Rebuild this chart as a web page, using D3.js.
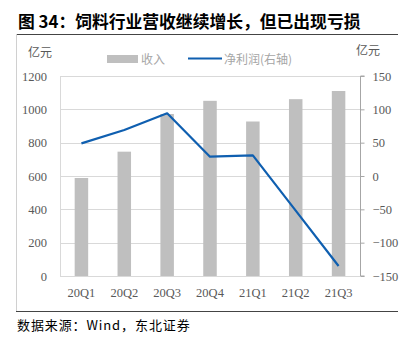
<!DOCTYPE html>
<html>
<head>
<meta charset="utf-8">
<script src="https://cdn.jsdelivr.net/npm/d3@7"></script>
<style>
  html, body { margin: 0; padding: 0; background: #fff; }
  svg { display: block; }
</style>
</head>
<body>
<svg id="chart" width="408" height="340"></svg>
<script>
// Quarterly data: revenue (left axis, 亿元) and net profit (right axis, 亿元)
const categories = ["20Q1", "20Q2", "20Q3", "20Q4", "21Q1", "21Q2", "21Q3"];
const revenue = [588, 746, 972, 1051, 927, 1061, 1110];
const netProfit = [49, 69, 94, 29, 31, -52, -135];
const leftTicks = [0, 200, 400, 600, 800, 1000, 1200];
const rightTicks = [-150, -100, -50, 0, 50, 100, 150];

const title = "图 34：饲料行业营收继续增长，但已出现亏损";
const source = "数据来源：Wind，东北证券";

const svg = d3.select("#chart");
const cjk = "'Noto Sans CJK SC', sans-serif";
const serif = "'Liberation Serif', 'Times New Roman', serif";
const labelColor = "#595959";
const gridColor = "#d9d9d9";

const m = { left: 60, right: 360, top: 76, bottom: 276 };

const x = d3.scaleBand().domain(categories).range([m.left, m.right]).paddingInner(0.685).paddingOuter(0.3425);
const yL = d3.scaleLinear().domain([0, 1200]).range([m.bottom, m.top]);
const yR = d3.scaleLinear().domain([-150, 150]).range([m.bottom, m.top]);

// Title and frame
svg.append("text").attr("x", 18).attr("y", 28)
  .attr("font-family", cjk).attr("font-weight", "bold").attr("font-size", 16.8)
  .attr("fill", "#000").text(title);
svg.append("line").attr("x1", 16).attr("x2", 398).attr("y1", 34.5).attr("y2", 34.5)
  .attr("stroke", "#444").attr("stroke-width", 1);
svg.append("line").attr("x1", 16.5).attr("x2", 16.5).attr("y1", 34).attr("y2", 311)
  .attr("stroke", "#d0d0d0").attr("stroke-width", 1);
svg.append("line").attr("x1", 16).attr("x2", 398).attr("y1", 311.5).attr("y2", 311.5)
  .attr("stroke", "#444").attr("stroke-width", 1);
svg.append("text").attr("x", 17).attr("y", 330)
  .attr("font-family", cjk).attr("font-size", 13).attr("letter-spacing", 0.9)
  .attr("fill", "#000").text(source);

// Unit labels
svg.append("text").attr("x", 28).attr("y", 57).attr("font-family", cjk).attr("font-size", 12)
  .attr("fill", labelColor).text("亿元");
svg.append("text").attr("x", 356).attr("y", 55).attr("font-family", cjk).attr("font-size", 12)
  .attr("fill", labelColor).text("亿元");

// Gridlines
svg.append("g").selectAll("line").data(leftTicks).join("line")
  .attr("x1", m.left).attr("x2", m.right)
  .attr("y1", d => Math.round(yL(d)) + 0.5).attr("y2", d => Math.round(yL(d)) + 0.5)
  .attr("stroke", gridColor).attr("stroke-width", 1);
svg.append("line").attr("x1", m.left + 0.5).attr("x2", m.left + 0.5)
  .attr("y1", m.top).attr("y2", m.bottom).attr("stroke", gridColor);

// Bars
svg.append("g").selectAll("rect").data(categories).join("rect")
  .attr("x", d => x(d)).attr("width", x.bandwidth())
  .attr("y", (d, i) => yL(revenue[i])).attr("height", (d, i) => yL(0) - yL(revenue[i]))
  .attr("fill", "#bfbfbf");

// Net profit line
const line = d3.line().x((d, i) => x(categories[i]) + x.bandwidth() / 2).y(d => yR(d));
svg.append("path").datum(netProfit).attr("d", line)
  .attr("fill", "none").attr("stroke", "#0f5fb0").attr("stroke-width", 2.2)
  .attr("stroke-linejoin", "round");

// Left axis
const leftAxis = svg.append("g").attr("transform", `translate(${m.left},0)`)
  .call(d3.axisLeft(yL).tickValues(leftTicks).tickFormat(d3.format("d")).tickSize(0).tickPadding(13));
leftAxis.select(".domain").remove();
leftAxis.selectAll("text").attr("font-family", serif).attr("font-size", 12.5).attr("fill", labelColor);

// Right axis
const rightAxis = svg.append("g").attr("transform", `translate(${m.right + 0.5},0)`)
  .call(d3.axisRight(yR).tickValues(rightTicks).tickFormat(d3.format("d")).tickSize(4).tickPadding(8));
rightAxis.select(".domain").attr("stroke", "#a6a6a6").attr("d", `M4,${m.top}H0V${m.bottom}H4`);
rightAxis.selectAll(".tick line").attr("stroke", "#a6a6a6");
rightAxis.selectAll("text").attr("font-family", serif).attr("font-size", 12.5).attr("fill", labelColor);

// Category axis
const bottomAxis = svg.append("g").attr("transform", `translate(0,${m.bottom})`)
  .call(d3.axisBottom(x).tickSize(0).tickPadding(12));
bottomAxis.select(".domain").remove();
bottomAxis.selectAll("text").attr("font-family", serif).attr("font-size", 12.5).attr("fill", labelColor);

// Legend
const lg = svg.append("g");
lg.append("rect").attr("x", 107).attr("y", 55).attr("width", 31).attr("height", 8).attr("fill", "#bfbfbf");
lg.append("text").attr("x", 141).attr("y", 63.5).attr("font-family", cjk).attr("font-size", 12)
  .attr("fill", "#a6a6a6").text("收入");
lg.append("line").attr("x1", 188).attr("x2", 222).attr("y1", 58.5).attr("y2", 58.5)
  .attr("stroke", "#0f5fb0").attr("stroke-width", 2.2);
lg.append("text").attr("x", 224).attr("y", 63.5).attr("font-family", cjk).attr("font-size", 12)
  .attr("fill", "#a6a6a6").text("净利润(右轴)");
</script>
</body>
</html>
